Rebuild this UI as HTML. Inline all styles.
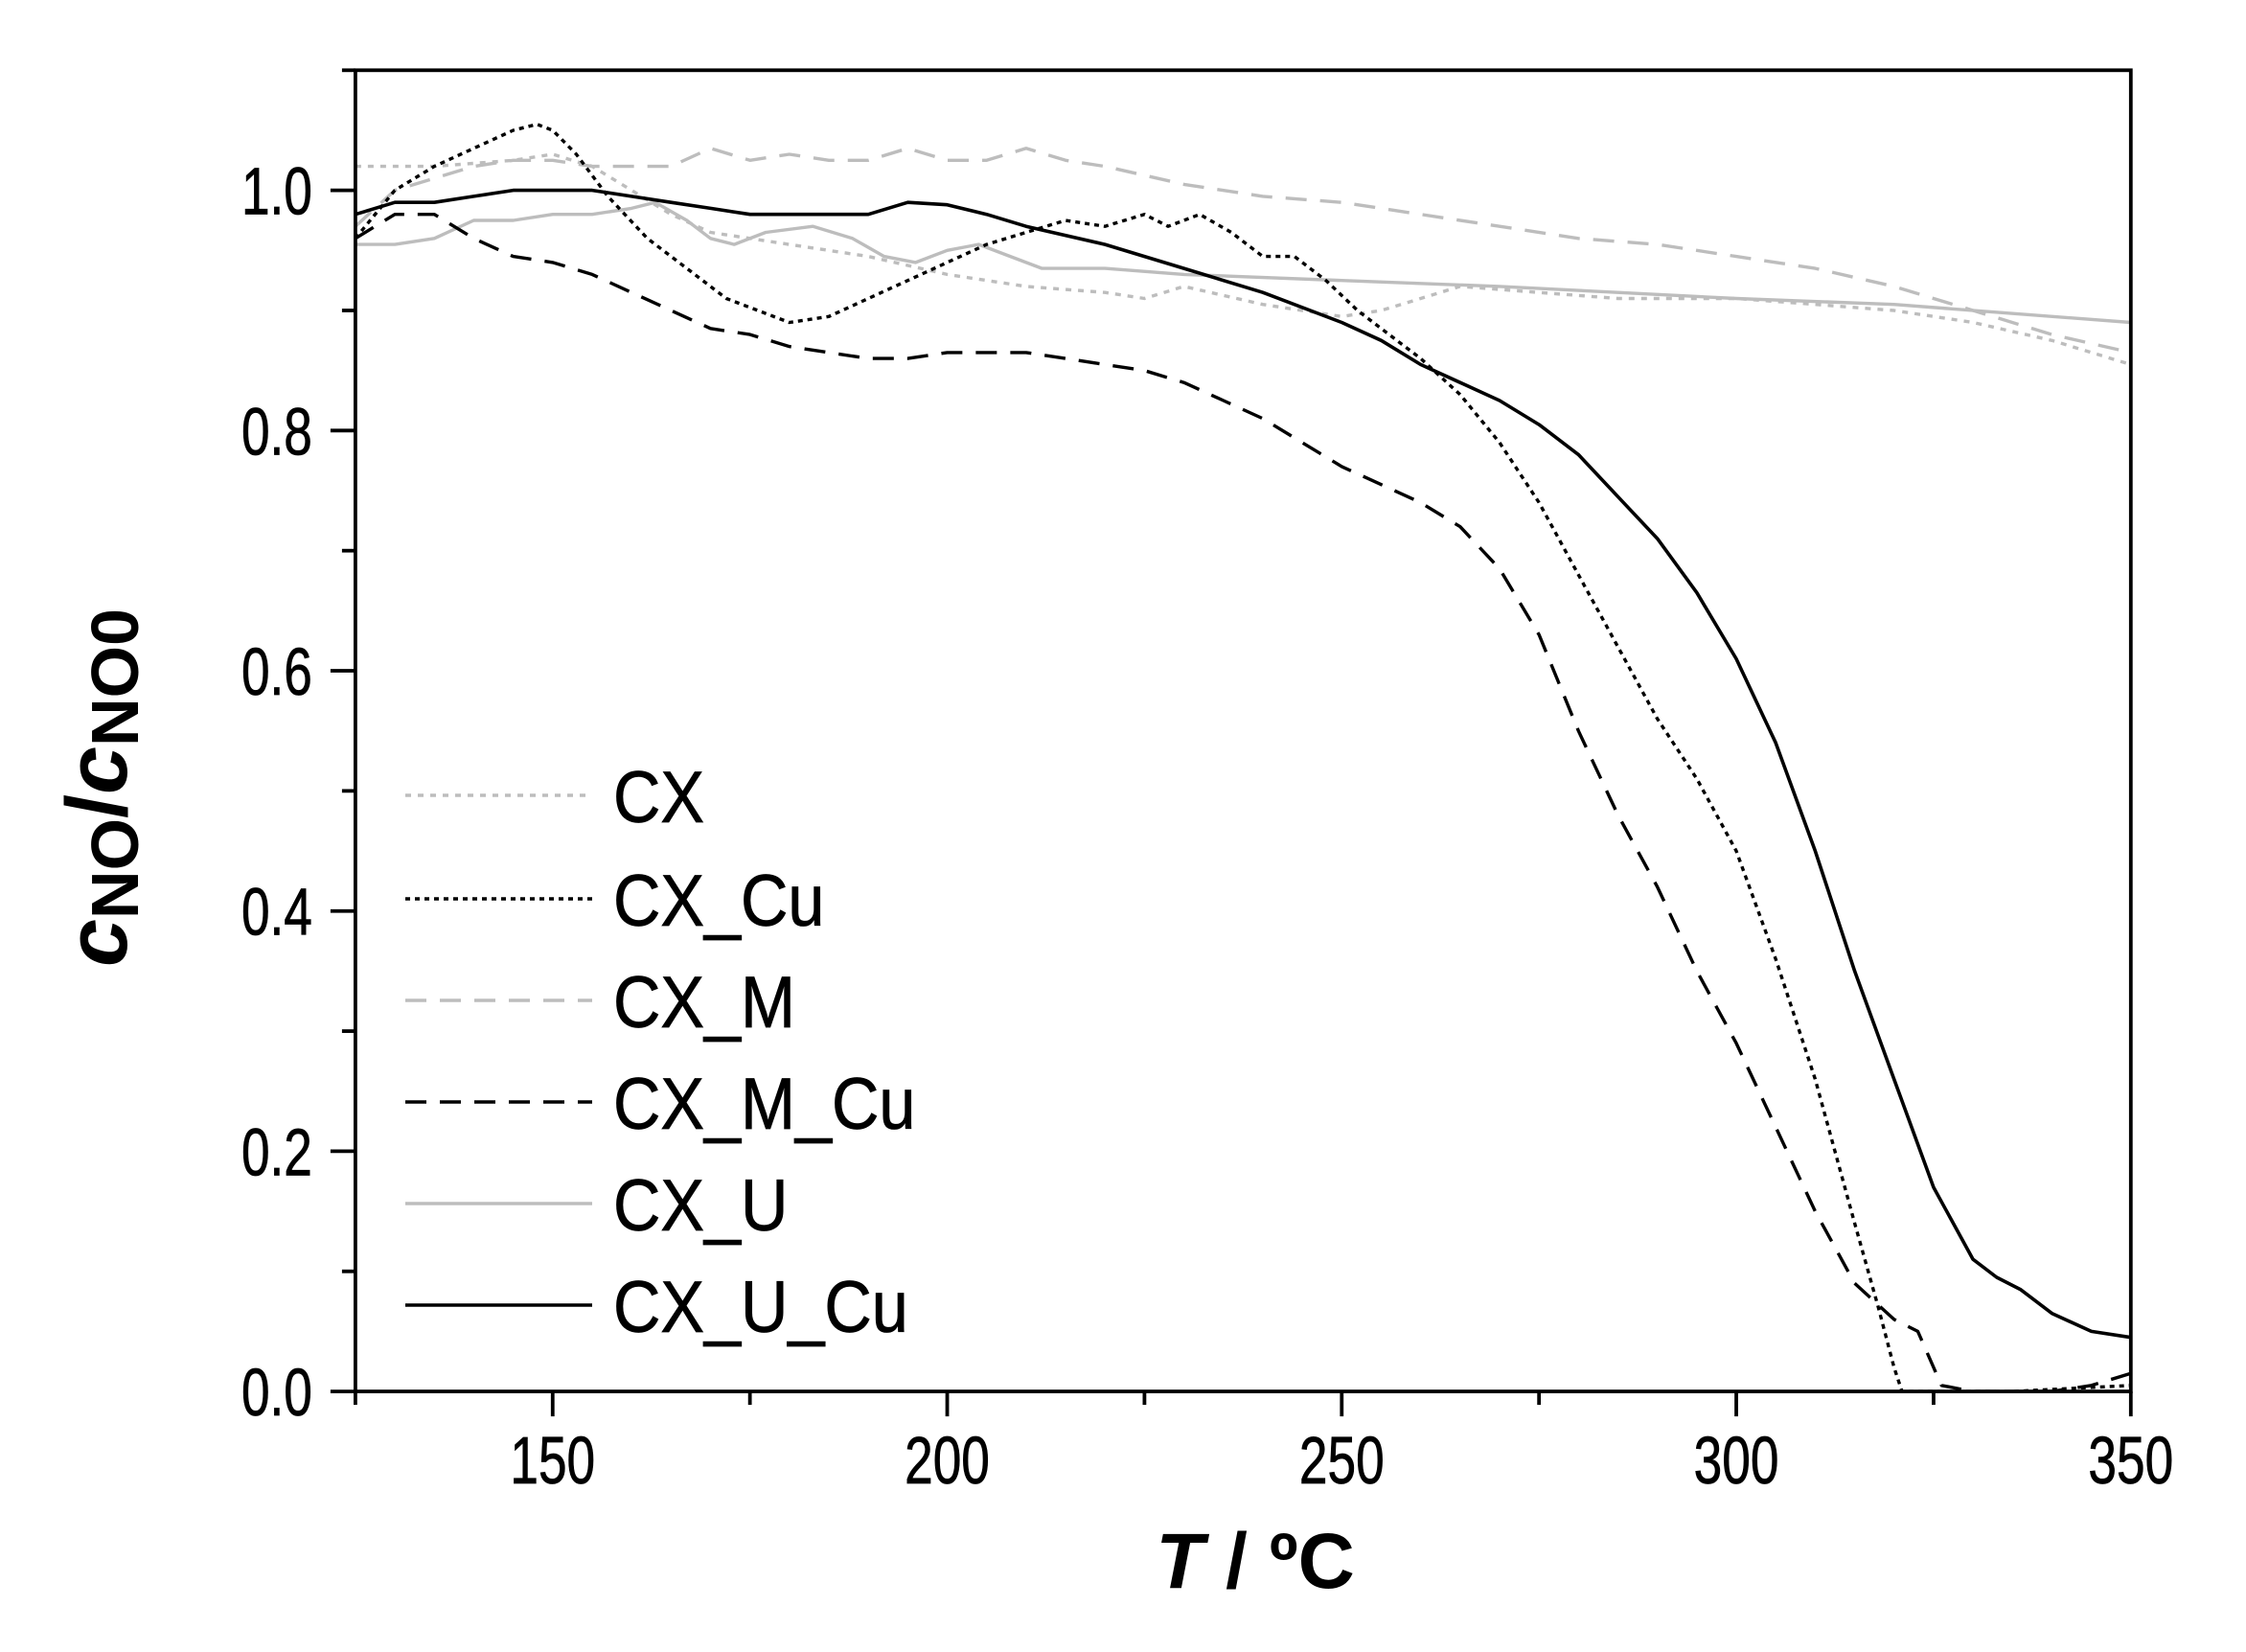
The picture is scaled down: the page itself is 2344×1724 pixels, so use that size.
<!DOCTYPE html>
<html><head><meta charset="utf-8"><style>
html,body{margin:0;padding:0;background:#fff;}
svg{display:block;}
text{font-family:"Liberation Sans",sans-serif;}
</style></head><body>
<svg id="s" width="2344" height="1724" viewBox="0 0 2344 1724" xmlns="http://www.w3.org/2000/svg">
<g id="g"></g>
</svg>
<script>
var X0=370.9,X1=2223.8,Y0=1452.1,Y1=73.3;
function px(t){return X0+(t-125)*(X1-X0)/225;}
function py(v){return Y0-v*(Y0-Y1)/1.1;}
var NS="http://www.w3.org/2000/svg",g=document.getElementById('g');
function el(n,a,txt){var e=document.createElementNS(NS,n);for(var k in a)e.setAttribute(k,a[k]);if(txt!==undefined)e.textContent=txt;g.appendChild(e);return e;}
function path(d,c,dash,w){var s="";d.forEach(function(p,i){s+=(i?"L":"M")+px(p[0]).toFixed(1)+","+py(p[1]).toFixed(1);});
el('path',{d:s,fill:'none',stroke:c,'stroke-width':w||3.4,'stroke-dasharray':dash||'none','stroke-linejoin':'round'});}
var gray="#bdbdbd";
var CX=[[125,1.02],[135,1.02],[145,1.025],[150,1.03],[155,1.02],[160,1.0],[165,0.98],[170,0.965],[175,0.96],[180,0.955],[190,0.945],[200,0.93],[210,0.92],[220,0.915],[225,0.91],[230,0.92],[240,0.905],[250,0.895],[255,0.9],[260,0.91],[265,0.92],[275,0.915],[285,0.91],[300,0.91],[310,0.905],[320,0.9],[330,0.89],[340,0.875],[350,0.855]];
var CXM=[[125,0.97],[130,1.0],[135,1.01],[140,1.02],[145,1.025],[150,1.025],[155,1.02],[160,1.02],[165,1.02],[170,1.035],[175,1.025],[180,1.03],[185,1.025],[190,1.025],[195,1.035],[200,1.025],[205,1.025],[210,1.035],[215,1.025],[220,1.02],[230,1.005],[240,0.995],[250,0.99],[260,0.98],[270,0.97],[280,0.96],[290,0.955],[300,0.945],[310,0.935],[320,0.92],[330,0.9],[340,0.88],[350,0.865]];
var CXU=[[125,0.955],[130,0.955],[135,0.96],[140,0.975],[145,0.975],[150,0.98],[155,0.98],[160,0.985],[163,0.99],[167,0.975],[170,0.96],[173,0.955],[177,0.965],[183,0.97],[188,0.96],[192,0.945],[196,0.94],[200,0.95],[204,0.955],[208,0.945],[212,0.935],[220,0.935],[230,0.93],[250,0.925],[270,0.92],[300,0.91],[320,0.905],[350,0.89]];
var CXUCu=[[125,0.98],[130,0.99],[135,0.99],[140,0.995],[145,1.0],[150,1.0],[155,1.0],[160,0.995],[165,0.99],[170,0.985],[175,0.98],[185,0.98],[190,0.98],[195,0.99],[200,0.988],[205,0.98],[210,0.97],[220,0.955],[230,0.935],[240,0.915],[250,0.89],[255,0.875],[260,0.855],[265,0.84],[270,0.825],[275,0.805],[280,0.78],[285,0.745],[290,0.71],[295,0.665],[300,0.61],[305,0.54],[310,0.45],[315,0.35],[320,0.26],[325,0.17],[330,0.11],[333,0.095],[336,0.085],[340,0.065],[345,0.05],[350,0.045]];
var CXMCu=[[125,0.96],[130,0.98],[135,0.98],[140,0.96],[145,0.945],[150,0.94],[155,0.93],[160,0.915],[165,0.9],[170,0.885],[175,0.88],[180,0.87],[185,0.865],[190,0.86],[195,0.86],[200,0.865],[205,0.865],[210,0.865],[215,0.86],[220,0.855],[225,0.85],[230,0.84],[235,0.825],[240,0.81],[245,0.79],[250,0.77],[255,0.755],[260,0.74],[265,0.72],[270,0.685],[275,0.63],[280,0.55],[285,0.48],[290,0.42],[295,0.35],[300,0.29],[305,0.22],[310,0.15],[315,0.09],[320,0.06],[323,0.05],[326,0.005],[330,0],[340,0],[345,0.005],[350,0.015]];
var CXCu=[[125,0.96],[130,1.0],[135,1.02],[140,1.035],[145,1.05],[148,1.055],[150,1.05],[153,1.03],[157,0.995],[162,0.96],[167,0.935],[172,0.91],[176,0.9],[180,0.89],[185,0.895],[190,0.91],[195,0.925],[200,0.94],[205,0.955],[210,0.965],[215,0.975],[220,0.97],[225,0.98],[228,0.97],[232,0.98],[236,0.965],[240,0.945],[244,0.945],[248,0.925],[252,0.9],[256,0.88],[260,0.86],[265,0.83],[270,0.79],[275,0.74],[280,0.68],[285,0.62],[290,0.56],[295,0.51],[300,0.45],[305,0.36],[310,0.26],[315,0.14],[318,0.07],[320,0.02],[321,0],[335,0],[350,0.005]];
path(CX,gray,"6,7");path(CXM,gray,"22,14");path(CXU,gray,"none");
path(CXMCu,"#000","22,14");path(CXCu,"#000","5,5");path(CXUCu,"#000","none",3.6);
el('rect',{x:X0,y:Y1,width:X1-X0,height:Y0-Y1,fill:'none',stroke:'#000','stroke-width':3.8});
for(var i=0;i<=11;i++){var y=py(i*0.1),maj=(i%2==0);el('line',{x1:X0,x2:X0-(maj?26:14),y1:y,y2:y,stroke:'#000','stroke-width':3.8});
 if(maj&&i<=10)el('text',{x:X0-45,y:y+25,'text-anchor':'end','font-size':70,stroke:'#000','stroke-width':0.8,transform:'translate('+(X0-45)+',0) scale(0.76,1) translate('+(-(X0-45))+',0)'},(i/10).toFixed(1));}
for(var t=125;t<=350;t+=25){var x=px(t),maj=(t%50==0);el('line',{x1:x,x2:x,y1:Y0,y2:Y0+(maj?26:14),stroke:'#000','stroke-width':3.8});
 if(maj)el('text',{x:x,y:Y0+96,'text-anchor':'middle','font-size':70,stroke:'#000','stroke-width':0.8,transform:'translate('+x+',0) scale(0.76,1) translate('+(-x)+',0)'},t);}
var L=[["CX",gray,"6,7"],["CX_Cu","#000","5,5"],["CX_M",gray,"22,14"],["CX_M_Cu","#000","22,14"],["CX_U",gray,"none"],["CX_U_Cu","#000","none"]];
var ly=[830,938,1044,1150,1256,1362];
L.forEach(function(l,i){el('line',{x1:423,x2:618,y1:ly[i],y2:ly[i],stroke:l[1],'stroke-width':3.6,'stroke-dasharray':l[2]});
 el('text',{x:640,y:ly[i]+28,'font-size':76,stroke:'#000','stroke-width':0.8,transform:'translate(640,0) scale(0.9,1) translate(-640,0)'},l[0]);});
var t1=el('text',{x:0,y:0,'font-size':90,'font-weight':'bold','text-anchor':'middle',transform:'translate(132,822) rotate(-90)'});
t1.innerHTML='<tspan font-style="italic">c</tspan><tspan font-size="70" dy="12">NO</tspan><tspan dy="-12">/</tspan><tspan font-style="italic">c</tspan><tspan font-size="70" dy="12">NO0</tspan>';
var t2=el('text',{x:1310,y:1657,'font-size':82,'font-weight':'bold','text-anchor':'middle'});
t2.innerHTML='<tspan font-style="italic">T</tspan> / ºC';
</script>
</body></html>
